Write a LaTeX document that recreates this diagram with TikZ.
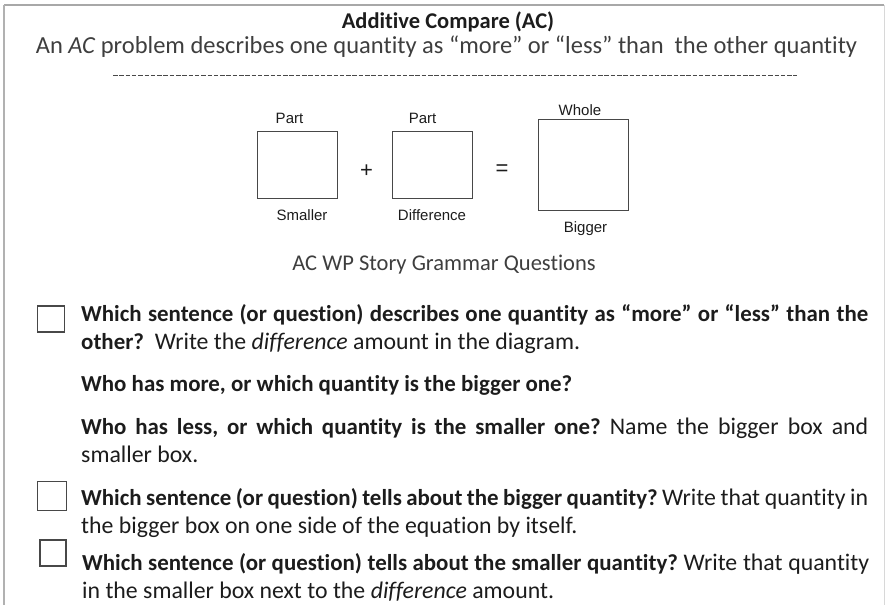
\documentclass[tikz,border=0pt]{standalone}
\usepackage{fontspec}
\setmainfont{Carlito}[Ligatures=NoCommon]
\newfontfamily\arialf{Liberation Sans}
\frenchspacing
\definecolor{txt}{HTML}{1C1C1C}
\definecolor{boxc}{HTML}{484848}
\definecolor{framec}{HTML}{A8A8A8}
\newcommand\bt[1]{{\fontsize{22.9}{28}\selectfont\bfseries #1}}
\tikzset{
  body/.style={anchor=north west, inner sep=0pt, text width=787pt, align=justify,
    font=\fontsize{23.8}{28}\selectfont, text=txt},
  lbl/.style={font=\arialf\fontsize{15}{18}\selectfont, inner sep=0pt, anchor=base, text=txt},
  ebox/.style={draw=boxc, line width=1.3pt},
  qbox/.style={draw=boxc, line width=1.2pt},
}
\begin{document}
\begin{tikzpicture}[x=1pt,y=-1pt]
\useasboundingbox (0,0) rectangle (886,605);
% frame
\draw[framec, line width=2pt] (4,5) -- (884,5);
\draw[framec!90, line width=1.5pt] (4,5) -- (4,605);
\draw[framec!45, line width=1pt] (884,5) -- (884,605);
% title
\node[anchor=base, inner sep=0pt, text=txt, font=\bfseries\fontsize{22.5}{27}\selectfont] (title) at (448,28) {Additive Compare (AC)};
\node[anchor=base, inner sep=0pt, text=txt!85, font=\fontsize{24.5}{29}\selectfont] (sub) at (446.5,53) {An \textit{AC} problem describes one quantity as “more” or “less” than\ \ the other quantity};
\coordinate (dl) at (113,75);
\coordinate (dr) at (797,75);
\draw[boxc, line width=1pt, dash pattern=on 4.5pt off 1.8pt] (dl) -- (dr);
% diagram
\node[ebox, minimum width=80pt, minimum height=67pt, inner sep=0pt] (b1) at (297.5,165) {};
\node[ebox, minimum width=80pt, minimum height=67pt, inner sep=0pt] (b2) at (432.5,165) {};
\node[ebox, minimum width=90pt, minimum height=91pt, inner sep=0pt] (b3) at (583.5,165) {};
\node[lbl] (p1) at (289.5,123) {Part};
\node[lbl] (p2) at (422.5,123) {Part};
\node[lbl] (w) at (580,115) {Whole};
\node[lbl] (s) at (302,220) {Smaller};
\node[lbl] (d) at (432,220) {Difference};
\node[lbl] (bg) at (585.5,232) {Bigger};
\node[inner sep=0pt, text=txt, font=\arialf\fontsize{22}{24}\selectfont] (plus) at (366.5,171) {+};
\node[inner sep=0pt, text=txt, font=\arialf\fontsize{22}{24}\selectfont] (eq) at (502,170) {=};
\node[anchor=base, inner sep=0pt, text=txt!85, font=\fontsize{22.5}{27}\selectfont] (acwp) at (444,270) {AC WP Story Grammar Questions};
% checkboxes
\node[qbox, minimum width=27pt, minimum height=26pt, inner sep=0pt] (c1) at (51,319) {};
\node[qbox, minimum width=29pt, minimum height=29pt, inner sep=0pt] (c2) at (52,496) {};
\node[qbox, minimum width=26pt, minimum height=26pt, inner sep=0pt] (c3) at (53,553) {};
% paragraphs (top = baseline - 0.7*baselineskip)
\node[body] (q1) at (81,302) {\strut\bt{Which sentence (or question) describes one quantity as “more” or “less” than the}\linebreak \bt{other?}\ \ Write the \textit{difference} amount in the diagram.};
\node[body] (q2) at (81,372) {\strut\bt{Who has more, or which quantity is the bigger one?}};
\node[body] (q3) at (81,415) {\strut\bt{Who has less, or which quantity is the smaller one?} Name the bigger box and\linebreak smaller box.};
\node[body] (q4) at (81,486) {\strut\bt{Which sentence (or question) tells about the bigger quantity?} Write that quantity in\linebreak the bigger box on one side of the equation by itself.};
\node[body] (q5) at (82,551) {\strut\bt{Which sentence (or question) tells about the smaller quantity?} Write that quantity\linebreak in the smaller box next to the \textit{difference} amount.};
\end{tikzpicture}
\end{document}
